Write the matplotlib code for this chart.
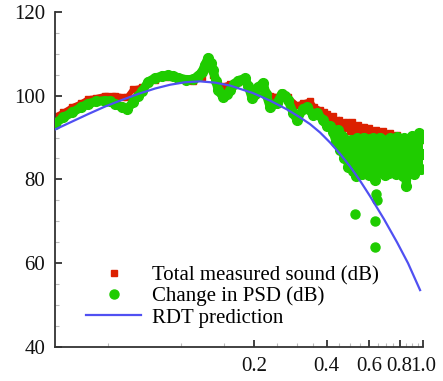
import numpy as np
import matplotlib.pyplot as plt
from matplotlib.lines import Line2D
from matplotlib.ticker import NullFormatter

# ── Data ────────────────────────────────────────────────────
# Change in PSD (green), frequency / dB
psd_f = [0.0301, 0.0326, 0.0355, 0.0386, 0.0413, 0.0446, 0.0485, 0.0509, 0.0534, 0.0571,
         0.0598, 0.0633, 0.0665, 0.0690, 0.0731, 0.0781, 0.0836, 0.0884, 0.0927, 0.0972,
         0.1049, 0.1121, 0.1175, 0.1221, 0.1256, 0.1293, 0.1331, 0.1356, 0.1395, 0.1422,
         0.1491, 0.1549, 0.1594, 0.1656, 0.1720, 0.1838, 0.1891, 0.1965, 0.2022, 0.2080,
         0.2183, 0.2246, 0.2333, 0.2493, 0.2615, 0.2690, 0.2768, 0.2904, 0.3015, 0.3192,
         0.3320, 0.3511, 0.3651, 0.3864, 0.4012, 0.4128, 0.4247, 0.4368, 0.4455, 0.4540,
         0.4631, 0.4722, 0.4816, 0.4911,
         0.500, 0.505, 0.512, 0.520, 0.528, 0.535, 0.543, 0.551, 0.560, 0.568,
         0.577, 0.586, 0.595, 0.604, 0.613, 0.623, 0.633, 0.643, 0.653, 0.664,
         0.675, 0.686, 0.697, 0.709, 0.720, 0.732, 0.745, 0.757, 0.770, 0.783,
         0.797, 0.810, 0.824, 0.838, 0.853, 0.868, 0.883, 0.898, 0.914, 0.930,
         0.946, 0.963, 0.980, 0.995, 1.000]
psd_db = [93.3, 94.8, 96.0, 97.2, 98.1, 98.6, 98.8, 98.6, 98.0, 97.2,
          96.8, 98.4, 100.0, 101.0, 103.3, 104.2, 104.7, 104.9, 104.7, 104.3,
          103.8, 103.9, 104.7, 105.7, 107.4, 109.0, 107.8, 106.0, 103.4, 101.3,
          99.7, 100.4, 101.3, 102.7, 103.6, 104.1, 102.4, 99.4, 100.5, 102.0,
          103.0, 100.4, 97.3, 98.2, 100.5, 99.9, 98.9, 95.9, 94.2, 96.9,
          97.2, 95.4, 95.8, 94.2, 92.7, 92.8, 91.4, 89.0, 91.8, 87.0,
          90.3, 85.0, 89.3, 83.0,
          85.0, 89.3, 82.0, 88.5, 80.8, 89.8, 83.0, 89.0, 81.2, 90.0,
          84.0, 88.5, 81.0, 89.6, 82.5, 89.8, 79.8, 88.8, 81.5, 90.0,
          83.0, 89.3, 81.0, 88.0, 81.5, 89.8, 82.5, 89.0, 81.2, 90.1,
          84.0, 88.5, 80.8, 89.8, 78.5, 89.0, 82.0, 90.3, 81.2, 89.5,
          83.5, 91.0, 82.5, 90.0, 86.0]

# isolated low PSD points
psd_out_f = [0.5236, 0.6333, 0.6333, 0.6400, 0.6455]
psd_out_db = [71.8, 70.0, 64.0, 76.5, 75.2]

# Total measured sound (red)
total_f = [0.0301, 0.0326, 0.0355, 0.0386, 0.0413, 0.0446, 0.0485, 0.0534, 0.0571, 0.0598,
           0.0633, 0.0690, 0.0731, 0.0781, 0.0884, 0.0972, 0.1121, 0.1221, 0.1293, 0.1356,
           0.1422, 0.1491, 0.1594, 0.1720, 0.1838, 0.1965, 0.2080, 0.2183, 0.2333, 0.2493,
           0.2615, 0.2768, 0.3015, 0.3192, 0.3412,
           0.355, 0.3753, 0.390, 0.4012, 0.410, 0.4247, 0.440, 0.450, 0.465, 0.480,
           0.4992, 0.510, 0.525, 0.540, 0.555, 0.570, 0.587, 0.600, 0.620, 0.640,
           0.660, 0.680, 0.710, 0.730, 0.760, 0.780, 0.820, 0.860, 0.900, 0.950, 1.000]
total_db = [95.0, 96.0, 97.3, 98.2, 99.2, 99.5, 100.0, 100.0, 99.7, 99.6,
            101.5, 102.0, 103.0, 103.8, 104.5, 104.0, 103.5, 104.5, 107.0, 105.0,
            102.5, 102.2, 102.8, 103.3, 103.5, 101.2, 101.8, 102.5, 100.0, 99.7,
            100.7, 99.6, 97.7, 98.2, 98.7,
            97.3, 96.6, 96.1, 95.7, 94.6, 95.1, 93.2, 94.3, 92.2, 93.8,
            91.6, 93.6, 91.2, 93.0, 91.0, 92.6, 90.6, 92.2, 90.6, 91.8,
            90.3, 91.5, 90.0, 91.0, 89.8, 90.5, 89.5, 90.0, 89.5, 90.0, 89.5]

# RDT prediction (blue)
rdt_f = [0.0301, 0.0348, 0.0413, 0.0485, 0.0571, 0.0665, 0.0781, 0.0901, 0.1039, 0.1199,
         0.1382, 0.1594, 0.1984, 0.2333, 0.2742, 0.3102, 0.3412, 0.3753, 0.4128, 0.4540,
         0.4992, 0.5491, 0.6039, 0.6899, 0.7807, 0.8670, 0.9719]
rdt_db = [91.9, 93.6, 95.6, 97.4, 99.0, 100.4, 101.7, 102.6, 103.2, 103.4,
          103.1, 102.4, 100.6, 98.8, 96.7, 94.8, 93.2, 91.2, 88.8, 86.1,
          83.1, 79.7, 76.0, 70.5, 65.0, 60.0, 53.6]

x_ticks = [0.2, 0.4, 0.6, 0.8, 1.0]
x_ticklabels = ["0.2", "0.4", "0.6", "0.8", "1.0"]
y_ticks = [40, 60, 80, 100, 120]

GREEN = "#1fcc00"
RED = "#dc2000"
BLUE = "#5050f2"

plt.rcParams['font.family'] = ['Liberation Serif', 'DejaVu Serif']

fig = plt.figure(figsize=(4.43, 3.81), dpi=100)
ax = fig.add_axes([0.124, 0.089, 0.831, 0.880])

# ── Series ──────────────────────────────────────────────────
ax.plot(total_f, total_db, color=RED, lw=4.0, solid_joinstyle='round', zorder=2)
ax.plot(total_f, total_db, ls='none', marker='s', ms=4.5, color=RED, zorder=2)

ax.plot(psd_f, psd_db, color=GREEN, lw=6.5, solid_joinstyle='round',
        solid_capstyle='round', zorder=3)
ax.plot(psd_f, psd_db, ls='none', marker='o', ms=7, color=GREEN, zorder=3)
ax.plot(psd_out_f, psd_out_db, ls='none', marker='o', ms=6.5, color=GREEN, zorder=3)

ax.plot(rdt_f, rdt_db, color=BLUE, lw=1.6, zorder=4)

# ── Axes ────────────────────────────────────────────────────
ax.set_xscale('log')
ax.set_xlim(0.0301, 1.0)
ax.set_ylim(40, 120)

ax.set_xticks(x_ticks)
ax.set_xticklabels(x_ticklabels)
ax.set_xticks([0.05, 0.1, 0.15, 0.25, 0.3, 0.35, 0.45, 0.5, 0.55,
               0.65, 0.7, 0.75, 0.85, 0.9, 0.95], minor=True)
ax.xaxis.set_minor_formatter(NullFormatter())
ax.set_yticks(y_ticks)
ax.set_yticks(np.arange(45, 120, 5), minor=True)

for side in ['top', 'right']:
    ax.spines[side].set_visible(False)
for side in ['left', 'bottom']:
    ax.spines[side].set_color('#333333')
    ax.spines[side].set_linewidth(1.3)

ax.tick_params(which='major', direction='in', length=5, width=1.3,
               color='#333333', labelsize=15, pad=7, labelcolor='#111111')
ax.tick_params(which='minor', direction='in', length=3, width=0.8, color='#bbbbbb')

# ── Legend ──────────────────────────────────────────────────
handles = [
    Line2D([], [], ls='none', marker='s', ms=4.5, color=RED),
    Line2D([], [], ls='none', marker='o', ms=6.5, color=GREEN),
    Line2D([], [], color=BLUE, lw=1.6),
]
labels = ["Total measured sound (dB)", "Change in PSD (dB)", "RDT prediction"]
ax.legend(handles, labels, loc='lower left', bbox_to_anchor=(0.085, 0.058),
          frameon=False, fontsize=15, handlelength=2.65, handletextpad=0.5,
          labelspacing=0.08, borderpad=0, borderaxespad=0)

fig.savefig("out.png", dpi=100)
